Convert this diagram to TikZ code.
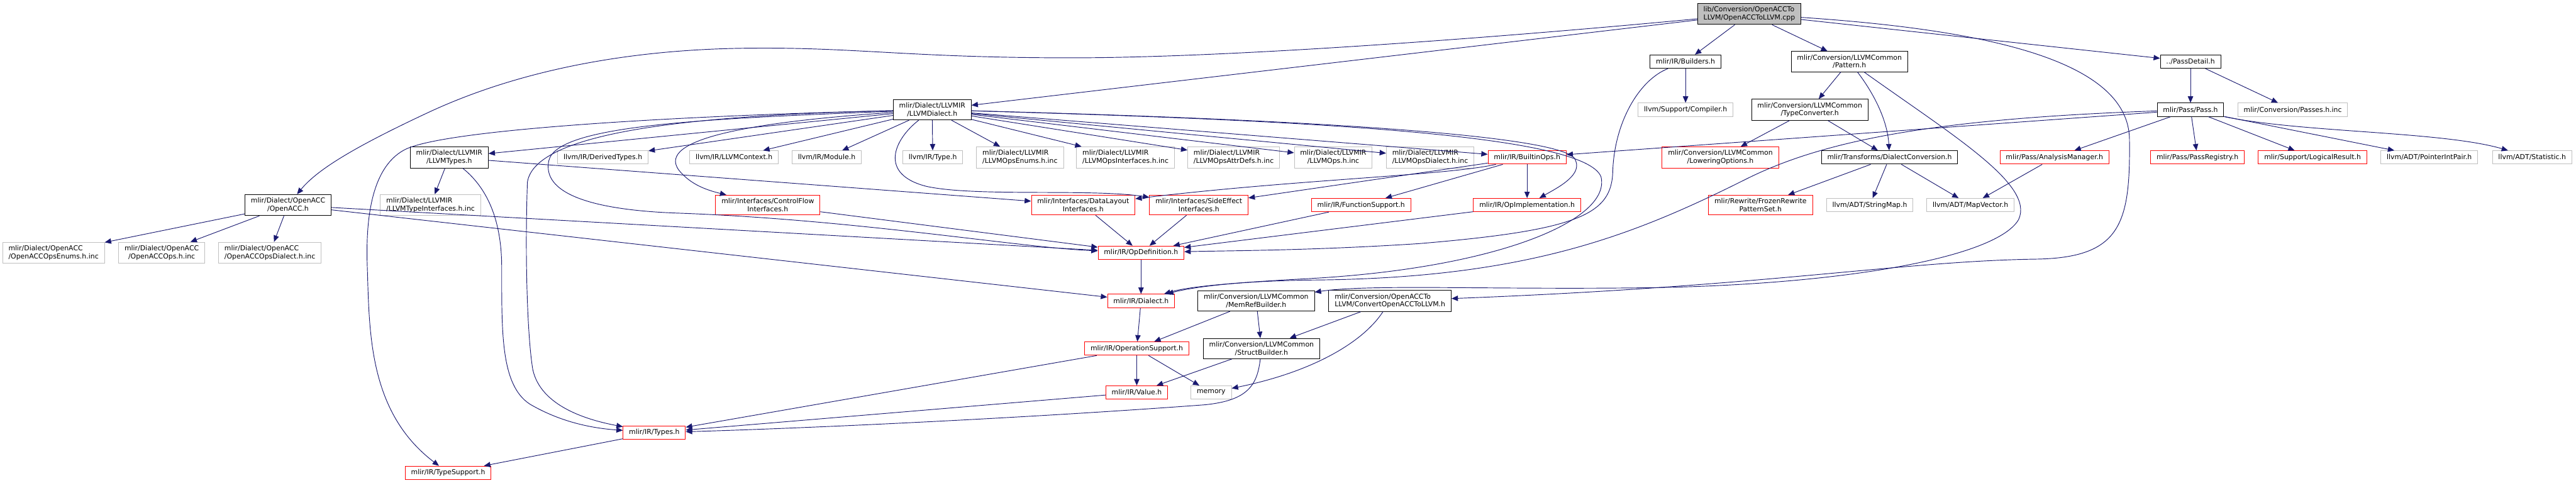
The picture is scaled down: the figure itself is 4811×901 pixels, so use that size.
\documentclass[tikz,border=0pt]{standalone}
\usepackage{fontspec}
\setmainfont{DejaVu Sans}
\usepackage{xcolor}
\usepackage{tikz}
\usetikzlibrary{arrows.meta}

\definecolor{edgeblue}{HTML}{191970}
\definecolor{grey75}{HTML}{BFBFBF}

\begin{document}
\begin{tikzpicture}[x=1pt, y=-1pt,
  file/.style={rectangle, draw, line width=1.1pt, fill=white, inner xsep=11pt,
               inner ysep=6pt, minimum height=25pt, align=center,
               font=\fontsize{12.8}{15}\selectfont},
  doc/.style={file, draw=black},
  trunc/.style={file, draw=red},
  ext/.style={file, draw=grey75},
  root/.style={file, draw=black, fill=grey75},
  arr/.style={-{Triangle[length=12pt,width=10pt]}, line width=1.1pt, draw=edgeblue},
]
\useasboundingbox (0,0) rectangle (4811,901);

\node[root, align=left] (main) at (3267,26) {lib/Conversion/OpenACCTo\\LLVM/OpenACCToLLVM.cpp};
\node[doc] (bld) at (3148,115) {mlir/IR/Builders.h};
\node[doc] (pat) at (3454,115) {mlir/Conversion/LLVMCommon\\/Pattern.h};
\node[doc] (pdet) at (4091,115) {../PassDetail.h};
\node[doc] (llvmd) at (1741,205) {mlir/Dialect/LLVMIR\\/LLVMDialect.h};
\node[ext] (cmp) at (3148,205) {llvm/Support/Compiler.h};
\node[doc] (tconv) at (3380,205) {mlir/Conversion/LLVMCommon\\/TypeConverter.h};
\node[doc] (pass) at (4091,205) {mlir/Pass/Pass.h};
\node[ext] (passinc) at (4282,205) {mlir/Conversion/Passes.h.inc};
\node[doc] (ltypes) at (839,294) {mlir/Dialect/LLVMIR\\/LLVMTypes.h};
\node[ext] (dtypes) at (1126,294) {llvm/IR/DerivedTypes.h};
\node[ext] (lctx) at (1371,294) {llvm/IR/LLVMContext.h};
\node[ext] (lmod) at (1544,294) {llvm/IR/Module.h};
\node[ext] (ltype) at (1742,294) {llvm/IR/Type.h};
\node[ext, align=left] (openum) at (1905,294) {mlir/Dialect/LLVMIR\\/LLVMOpsEnums.h.inc};
\node[ext, align=left] (opintf) at (2102,294) {mlir/Dialect/LLVMIR\\/LLVMOpsInterfaces.h.inc};
\node[ext, align=left] (opattr) at (2304,294) {mlir/Dialect/LLVMIR\\/LLVMOpsAttrDefs.h.inc};
\node[ext] (opsinc) at (2490,294) {mlir/Dialect/LLVMIR\\/LLVMOps.h.inc};
\node[ext, align=left] (opdial) at (2671,294) {mlir/Dialect/LLVMIR\\/LLVMOpsDialect.h.inc};
\node[trunc] (bops) at (2852,294) {mlir/IR/BuiltinOps.h};
\node[trunc] (lower) at (3213,294) {mlir/Conversion/LLVMCommon\\/LoweringOptions.h};
\node[doc] (dconv) at (3529,294) {mlir/Transforms/DialectConversion.h};
\node[trunc] (amgr) at (3837,294) {mlir/Pass/AnalysisManager.h};
\node[trunc] (preg) at (4104,294) {mlir/Pass/PassRegistry.h};
\node[trunc] (lres) at (4319,294) {mlir/Support/LogicalResult.h};
\node[ext] (pip) at (4537,294) {llvm/ADT/PointerIntPair.h};
\node[ext] (stat) at (4729,294) {llvm/ADT/Statistic.h};
\node[doc] (acc) at (538,383) {mlir/Dialect/OpenACC\\/OpenACC.h};
\node[ext, align=left] (tyintf) at (804,383) {mlir/Dialect/LLVMIR\\/LLVMTypeInterfaces.h.inc};
\node[trunc] (cfi) at (1434,383) {mlir/Interfaces/ControlFlow\\Interfaces.h};
\node[trunc] (dli) at (2023,383) {mlir/Interfaces/DataLayout\\Interfaces.h};
\node[trunc] (sei) at (2239,383) {mlir/Interfaces/SideEffect\\Interfaces.h};
\node[trunc] (fsup) at (2542,383) {mlir/IR/FunctionSupport.h};
\node[trunc] (opimpl) at (2852,383) {mlir/IR/OpImplementation.h};
\node[trunc] (frozen) at (3288,383) {mlir/Rewrite/FrozenRewrite\\PatternSet.h};
\node[ext] (smap) at (3492,383) {llvm/ADT/StringMap.h};
\node[ext] (mvec) at (3680,383) {llvm/ADT/MapVector.h};
\node[ext, align=left] (oenum) at (100,472) {mlir/Dialect/OpenACC\\/OpenACCOpsEnums.h.inc};
\node[ext] (oops) at (302,472) {mlir/Dialect/OpenACC\\/OpenACCOps.h.inc};
\node[ext, align=left] (odial) at (504,472) {mlir/Dialect/OpenACC\\/OpenACCOpsDialect.h.inc};
\node[trunc] (opdef) at (2131,472) {mlir/IR/OpDefinition.h};
\node[trunc] (dial) at (2131,562) {mlir/IR/Dialect.h};
\node[doc] (mrb) at (2346,562) {mlir/Conversion/LLVMCommon\\/MemRefBuilder.h};
\node[doc, align=left] (cvt) at (2596,562) {mlir/Conversion/OpenACCTo\\LLVM/ConvertOpenACCToLLVM.h};
\node[trunc] (opsup) at (2123,651) {mlir/IR/OperationSupport.h};
\node[doc] (sbld) at (2356,651) {mlir/Conversion/LLVMCommon\\/StructBuilder.h};
\node[trunc] (val) at (2123,733) {mlir/IR/Value.h};
\node[ext] (mem) at (2262,733) {memory};
\node[trunc] (types) at (1222,808) {mlir/IR/Types.h};
\node[trunc] (tsup) at (837,883) {mlir/IR/TypeSupport.h};

\draw[arr] (main) .. controls (2800,70) and (2300,108) .. (2000,108) .. controls (1700,108) and (1600,88) .. (1400,90) .. controls (1150,92) and (950,140) .. (800,210) .. controls (650,280) and (590,320) .. (acc);
\draw[arr] (main) -- (llvmd);
\draw[arr] (main) -- (bld);
\draw[arr] (main) -- (pat);
\draw[arr] (main) -- (pdet);
\draw[arr] (main) .. controls (3700,55) and (3975,110) .. (3977,260) .. controls (3979,420) and (3960,482) .. (3800,484) .. controls (3550,488) and (3300,535) .. (cvt);

\draw[arr] (acc) -- (oenum);
\draw[arr] (acc) -- (oops);
\draw[arr] (acc) -- (odial);
\draw[arr] (acc) -- (opdef);
\draw[arr] (acc) -- (dial);

\draw[arr] (llvmd) -- (ltypes);
\draw[arr] (llvmd) -- (dtypes);
\draw[arr] (llvmd) -- (lctx);
\draw[arr] (llvmd) -- (lmod);
\draw[arr] (llvmd) -- (ltype);
\draw[arr] (llvmd) -- (openum);
\draw[arr] (llvmd) -- (opintf);
\draw[arr] (llvmd) -- (opattr);
\draw[arr] (llvmd) -- (opsinc);
\draw[arr] (llvmd) -- (opdial);
\draw[arr] (llvmd) -- (bops);
\draw[arr] (llvmd) .. controls (2400,222) and (2900,250) .. (2940,295) .. controls (2960,325) and (2910,350) .. (opimpl);
\draw[arr] (llvmd) .. controls (2500,226) and (2960,255) .. (2990,330) .. controls (3010,410) and (2800,500) .. (2450,520) .. controls (2300,528) and (2220,535) .. (dial);
\draw[arr] (llvmd) .. controls (1400,228) and (1225,260) .. (1268,318) .. controls (1290,345) and (1320,355) .. (cfi);
\draw[arr] (llvmd) .. controls (1670,260) and (1640,325) .. (1730,348) .. controls (1820,368) and (2040,352) .. (sei);
\draw[arr] (llvmd) .. controls (1300,222) and (1040,235) .. (1025,300) .. controls (1012,360) and (1100,392) .. (1265,398) .. controls (1600,410) and (1900,462) .. (opdef);
\draw[arr] (llvmd) .. controls (1300,215) and (1000,245) .. (985,340) .. controls (980,480) and (985,630) .. (995,690) .. controls (1010,760) and (1100,785) .. (types);
\draw[arr] (llvmd) .. controls (1300,215) and (830,240) .. (755,280) .. controls (690,315) and (683,420) .. (686,500) .. controls (690,620) and (688,770) .. (tsup);

\draw[arr] (bld) -- (cmp);
\draw[arr] (bld) .. controls (3060,150) and (3015,230) .. (3012,320) .. controls (3010,400) and (2950,430) .. (2650,455) .. controls (2450,468) and (2300,468) .. (opdef);

\draw[arr] (pat) -- (tconv);
\draw[arr] (pat) .. controls (3500,175) and (3525,225) .. (dconv);
\draw[arr] (pat) .. controls (3650,255) and (3800,345) .. (3770,410) .. controls (3730,480) and (3450,530) .. (3100,537) .. controls (2800,542) and (2560,530) .. (mrb);

\draw[arr] (pdet) -- (pass);
\draw[arr] (pdet) -- (passinc);

\draw[arr] (tconv) -- (lower);
\draw[arr] (tconv) -- (dconv);

\draw[arr] (pass) -- (bops);
\draw[arr] (pass) .. controls (3600,222) and (3400,265) .. (3260,335) .. controls (3050,440) and (2850,520) .. (2450,523) .. controls (2300,525) and (2220,538) .. (dial);
\draw[arr] (pass) -- (amgr);
\draw[arr] (pass) -- (preg);
\draw[arr] (pass) -- (lres);
\draw[arr] (pass) -- (pip);
\draw[arr] (pass) .. controls (4300,248) and (4560,245) .. (stat);

\draw[arr] (ltypes) -- (tyintf);
\draw[arr] (ltypes) -- (dli);
\draw[arr] (ltypes) .. controls (915,355) and (937,420) .. (937,500) .. controls (937,620) and (935,720) .. (990,755) .. controls (1050,790) and (1110,800) .. (types);

\draw[arr] (bops) -- (fsup);
\draw[arr] (bops) -- (opimpl);
\draw[arr] (bops) .. controls (2700,328) and (2420,335) .. (dli);
\draw[arr] (bops) -- (sei);

\draw[arr] (dconv) -- (frozen);
\draw[arr] (dconv) -- (smap);
\draw[arr] (dconv) -- (mvec);
\draw[arr] (amgr) -- (mvec);

\draw[arr] (cfi) -- (opdef);
\draw[arr] (dli) -- (opdef);
\draw[arr] (sei) -- (opdef);
\draw[arr] (fsup) -- (opdef);
\draw[arr] (opimpl) -- (opdef);

\draw[arr] (opdef) -- (dial);
\draw[arr] (dial) -- (opsup);
\draw[arr] (mrb) -- (opsup);
\draw[arr] (mrb) -- (sbld);
\draw[arr] (cvt) -- (sbld);
\draw[arr] (cvt) .. controls (2545,640) and (2450,695) .. (mem);

\draw[arr] (opsup) -- (val);
\draw[arr] (opsup) -- (mem);
\draw[arr] (opsup) -- (types);
\draw[arr] (sbld) -- (val);
\draw[arr] (sbld) .. controls (2348,720) and (2330,748) .. (2250,756) .. controls (1900,782) and (1500,800) .. (types);
\draw[arr] (val) -- (types);
\draw[arr] (types) -- (tsup);
\end{tikzpicture}
\end{document}
